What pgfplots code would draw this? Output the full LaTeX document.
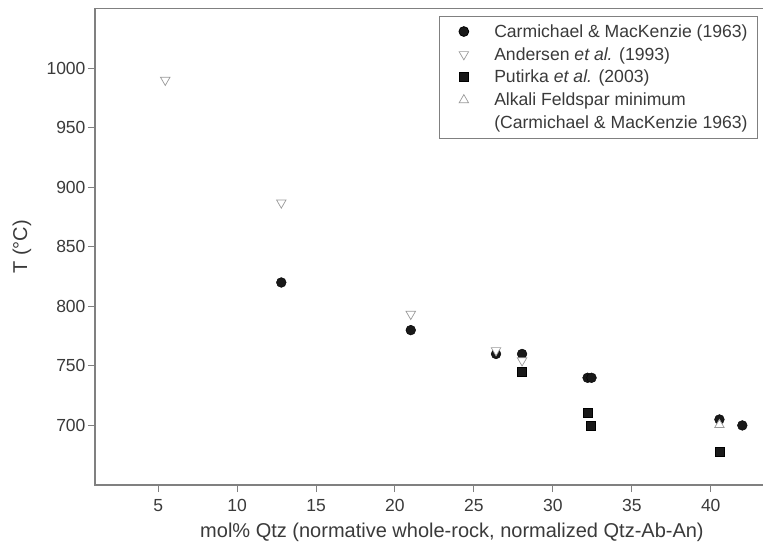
\documentclass[border=0pt]{standalone}
\usepackage{fontspec}
\setmainfont{Liberation Sans}
\usepackage{pgfplots}
\pgfplotsset{compat=1.18}
\definecolor{txt}{HTML}{3A3A3A}
\definecolor{axl}{HTML}{808080}
\definecolor{tri}{HTML}{9A9A9A}
\begin{document}
\begin{tikzpicture}
\begin{axis}[
  name=ax,
  scale only axis,
  width=671pt, height=476.5pt,
  xmin=1, xmax=43.5, ymin=650, ymax=1050,
  xtick={5,10,...,40}, ytick={700,750,...,1000},
  tick pos=left, tick align=outside,
  major tick length=7pt,
  axis line style={axl, line width=1.2pt},
  every tick/.style={axl, line width=1pt},
  /pgf/number format/assume math mode=true,
  /pgf/number format/set thousands separator={},
  ticklabel style={font=\fontsize{17.5}{19}\selectfont, text=txt},
  xticklabel style={yshift=-4pt},
  yticklabel style={xshift=1pt},
  xlabel={mol\% Qtz (normative whole-rock, normalized Qtz-Ab-An)},
  ylabel={T (°C)},
  label style={font=\fontsize{20}{22}\selectfont, text=txt},
  xlabel style={at={(axis description cs:0.532,0)}, anchor=center, yshift=-47pt},
  ylabel style={at={(axis description cs:-0.109,0.5)}, anchor=center},
  legend style={font=\fontsize{17.6}{19}\selectfont, text=txt, draw=axl, line width=0.8pt,
    at={(1,1)}, anchor=north east, xshift=-8pt, yshift=-7.5pt,
    cells={anchor=west}, row sep=4.6pt, column sep=12pt, inner xsep=8pt, inner ysep=6pt},
  legend cell align=left,
  legend image code/.code={\path (-16pt,0pt) (16pt,0pt); \draw[#1] plot coordinates {(0pt,0pt)};},
]
\addplot[only marks, mark=*, mark size=4.9pt, mark options={draw=black, fill=black!90}] coordinates {
 (12.8,820) (21.0,780) (26.4,760) (28.05,760) (32.2,740) (32.45,740) (40.55,705) (42.0,700)
};
\addlegendentry{Carmichael \& MacKenzie (1963)}
\addplot[only marks, mark=triangle*, mark size=5.5pt, mark options={rotate=180, draw=tri, fill=white, line width=0.7pt}] coordinates {
 (5.45,990) (12.8,887) (21.0,793.5) (26.4,763) (28.05,754.5)
};
\addlegendentry{Andersen \textit{et al.} (1993)}
\addplot[only marks, mark=square*, mark size=4.6pt, mark options={draw=black, fill=black!90}] coordinates {
 (28.05,745) (32.2,711) (32.4,700) (40.55,678)
};
\addlegendentry{Putirka \textit{et al.} (2003)}
\addplot[only marks, mark=triangle*, mark size=5.5pt, mark options={draw=tri, fill=white, line width=0.7pt}] coordinates {
 (40.55,700.5)
};
\addlegendentry{Alkali Feldspar minimum}
\addlegendimage{empty legend}
\addlegendentry{(Carmichael \& MacKenzie 1963)\rule[-9pt]{0pt}{9pt}}
\end{axis}
\pgfresetboundingbox
\path[use as bounding box] ([xshift=-95pt,yshift=-61pt]ax.south west) rectangle ([xshift=668pt,yshift=485pt]ax.south west);
\end{tikzpicture}
\end{document}
